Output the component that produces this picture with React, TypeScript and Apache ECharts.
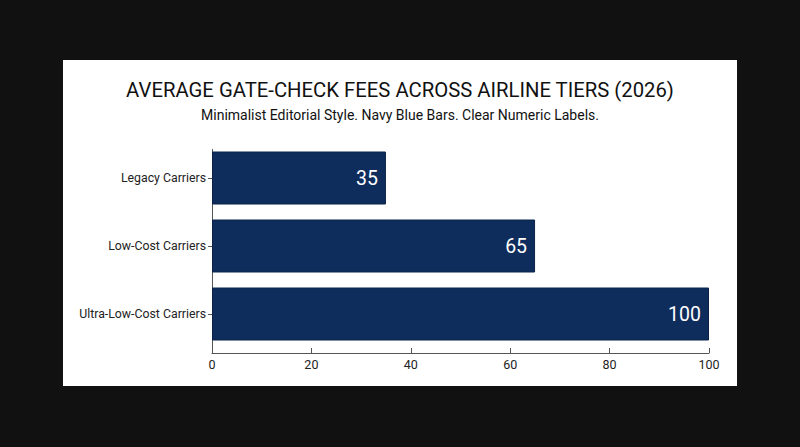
import { useEffect, useRef } from 'react';
import * as echarts from 'echarts';

// 数据
const categories = ['Legacy Carriers', 'Low-Cost Carriers', 'Ultra-Low-Cost Carriers'];
const feeValues = [35, 65, 100];
const xTicks = [0, 20, 40, 60, 80, 100];

const titleText = 'AVERAGE GATE-CHECK FEES ACROSS AIRLINE TIERS (2026)';
const subtitleText = 'Minimalist Editorial Style. Navy Blue Bars. Clear Numeric Labels.';

const App = () => {
  const chartDom = useRef<HTMLDivElement>(null);

  useEffect(() => {
    const chart = echarts.init(chartDom.current, null, { renderer: 'svg' });
    const font = 'Roboto, "Noto Sans", sans-serif';

    const option = {
      animation: false,
      textStyle: { fontFamily: font },
      title: [
        {
          text: titleText,
          left: 'center',
          top: 15,
          textStyle: { fontSize: 20.3, fontWeight: 'normal', color: '#111', fontFamily: font },
        },
        {
          text: subtitleText,
          left: 'center',
          top: 43,
          textStyle: { fontSize: 14, fontWeight: 'normal', color: '#111', fontFamily: font },
        },
      ],
      grid: { left: 149, right: 28, top: 84, bottom: 38, containLabel: false },
      xAxis: {
        type: 'value',
        min: xTicks[0],
        max: xTicks[xTicks.length - 1],
        interval: 20,
        offset: 5,
        axisLine: { show: true, lineStyle: { color: '#555', width: 1 } },
        axisTick: { show: true, inside: true, length: 5, lineStyle: { color: '#555' } },
        axisLabel: { color: '#222', fontSize: 12.5, margin: 5, fontFamily: font },
        splitLine: { show: false },
      },
      yAxis: {
        type: 'category',
        inverse: true,
        data: categories,
        axisLine: { show: false },
        axisTick: { show: true, alignWithLabel: true, length: 4, lineStyle: { color: '#555' } },
        axisLabel: { color: '#222', fontSize: 12.3, margin: 6, fontFamily: font },
      },
      graphic: [
        {
          type: 'line',
          shape: { x1: 149.5, y1: 89, x2: 149.5, y2: 293 },
          style: { stroke: '#555', lineWidth: 1 },
        },
      ],
      series: [
        {
          type: 'bar',
          data: feeValues,
          barWidth: 53,
          itemStyle: { color: '#0f2d5c', borderColor: '#0a2248', borderWidth: 1 },
          label: {
            show: true,
            position: 'insideRight',
            distance: 8,
            color: '#fff',
            fontSize: 19.5,
            fontFamily: font,
          },
        },
      ],
    };

    chart.setOption(option);
    return () => {
      chart.dispose();
    };
  }, []);

  return (
    <div style={{ position: 'fixed', left: 0, top: 0, width: 800, height: 447, background: '#111' }}>
      <div style={{ position: 'absolute', left: 63, top: 60, width: 674, height: 326, background: '#fff' }}>
        <div ref={chartDom} style={{ width: 674, height: 326 }} />
      </div>
    </div>
  );
};

export default App;
